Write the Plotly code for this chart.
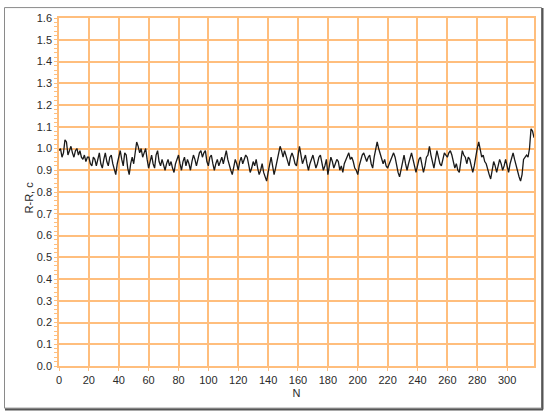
import plotly.graph_objects as go

rr = [
    0.99, 1.00, 0.96, 0.98, 1.04, 1.03, 0.97, 0.99, 1.01, 0.98,
    0.96, 0.99, 1.00, 0.97, 0.99, 0.96, 0.95, 0.97, 0.94, 0.96,
    0.96, 0.93, 0.92, 0.96, 0.95, 0.92, 0.96, 0.98, 0.93, 0.91,
    0.95, 0.98, 0.94, 0.92, 0.96, 0.97, 0.93, 0.91, 0.88, 0.93,
    0.97, 0.99, 0.95, 0.92, 0.98, 0.97, 0.91, 0.88, 0.93, 0.96,
    0.93, 0.97, 1.03, 1.01, 0.98, 1.00, 0.96, 0.98, 1.00, 0.95,
    0.91, 0.94, 0.97, 0.93, 0.91, 0.97, 0.99, 0.94, 0.92, 0.95,
    0.93, 0.90, 0.93, 0.95, 0.92, 0.94, 0.91, 0.89, 0.93, 0.95,
    0.97, 0.93, 0.90, 0.94, 0.96, 0.92, 0.95, 0.93, 0.90, 0.94,
    0.97, 0.95, 0.92, 0.95, 0.98, 0.99, 0.96, 0.98, 0.99, 0.94,
    0.92, 0.96, 0.97, 0.93, 0.90, 0.93, 0.95, 0.92, 0.94, 0.96,
    0.93, 0.97, 0.99, 0.95, 0.92, 0.90, 0.88, 0.92, 0.95, 0.93,
    0.90, 0.94, 0.96, 0.93, 0.95, 0.97, 0.96, 0.92, 0.89, 0.91,
    0.94, 0.92, 0.95, 0.91, 0.88, 0.90, 0.93, 0.89, 0.87, 0.85,
    0.89, 0.93, 0.96, 0.92, 0.88, 0.91, 0.95, 0.97, 1.01, 0.99,
    0.96, 0.99, 0.97, 0.94, 0.92, 0.96, 0.98, 0.96, 0.93, 0.92,
    0.98, 1.01, 0.97, 0.93, 0.95, 0.97, 0.93, 0.90, 0.93, 0.95,
    0.97, 0.94, 0.91, 0.93, 0.96, 0.97, 0.93, 0.90, 0.92, 0.95,
    0.88, 0.92, 0.96, 0.94, 0.91, 0.93, 0.95, 0.94, 0.90, 0.92,
    0.89, 0.93, 0.95, 0.97, 0.98, 0.95, 0.96, 0.94, 0.91, 0.90,
    0.88, 0.92, 0.95, 0.97, 0.98, 0.96, 0.94, 0.96, 0.97, 0.93,
    0.91, 0.96, 1.00, 1.03, 1.00, 0.98, 0.95, 0.93, 0.95, 0.92,
    0.91, 0.93, 0.95, 0.97, 0.98, 0.96, 0.92, 0.89, 0.87, 0.90,
    0.94, 0.97, 0.93, 0.90, 0.93, 0.96, 0.98, 0.95, 0.91, 0.89,
    0.92, 0.95, 0.96, 0.93, 0.89, 0.92, 0.96, 0.97, 1.01, 0.97,
    0.93, 0.91, 0.95, 0.99, 0.96, 0.93, 0.92, 0.95, 0.98, 0.97,
    0.96, 0.98, 0.99, 0.97, 0.94, 0.91, 0.93, 0.90, 0.89, 0.94,
    0.99, 0.97, 0.96, 0.93, 0.96, 0.95, 0.92, 0.89, 0.92, 0.97,
    1.00, 1.03, 0.99, 0.96, 0.97, 0.94, 0.93, 0.90, 0.88, 0.86,
    0.90, 0.94, 0.92, 0.89, 0.92, 0.95, 0.93, 0.90, 0.92, 0.95,
    0.92, 0.89, 0.93, 0.96, 0.98, 0.95, 0.92, 0.90, 0.87, 0.85,
    0.88, 0.95, 0.96, 0.97, 0.96, 1.00, 1.09, 1.08, 1.05,
]
n = list(range(len(rr)))

x_ticks = list(range(0, 301, 20))
y_ticks = [round(i * 0.1, 1) for i in range(17)]
y_labels = [f"{v:.1f}" for v in y_ticks]

orange = "#FFBE7D"
font = dict(family="Liberation Sans, Arial, sans-serif", size=11, color="#2a2a2a")

PW, PH, L, T = 475, 351, 59, 15


def px(x):
    return (x - L) / PW


def py(y):
    return (T + PH - y) / PH


fig = go.Figure()
fig.add_trace(go.Scatter(x=n, y=rr, mode="lines",
                         line=dict(color="#1a1a1a", width=1.3),
                         showlegend=False, hoverinfo="skip"))

fig.update_layout(
    width=550, height=416,
    margin=dict(l=L, r=550 - L - PW, t=T, b=416 - T - PH),
    paper_bgcolor="white", plot_bgcolor="white",
    font=font,
    xaxis=dict(range=[0, 318], tickvals=x_ticks, ticktext=[str(v) for v in x_ticks],
               showgrid=True, gridcolor=orange, gridwidth=1.5,
               showline=True, linecolor=orange, linewidth=1.5, mirror=True,
               ticks="outside", ticklen=3, tickcolor=orange,
               zeroline=False,
               title=dict(text="N", font=font, standoff=4)),
    yaxis=dict(range=[0, 1.6], tickvals=y_ticks, ticktext=y_labels,
               showgrid=True, gridcolor=orange, gridwidth=1.5,
               showline=True, linecolor=orange, linewidth=1.5, mirror=True,
               ticks="outside", ticklen=3, tickcolor=orange,
               minor=dict(dtick=0.02, ticks="outside", ticklen=3, tickcolor=orange, showgrid=False),
               zeroline=False),
    annotations=[
        dict(text="R-R, c", xref="paper", yref="paper", x=px(29), y=py(196),
             textangle=-90, showarrow=False, font=font,
             xanchor="center", yanchor="middle"),
    ],
    shapes=[
        dict(type="rect", xref="paper", yref="paper",
             x0=px(4.5), x1=px(541.5), y0=py(408.5), y1=py(4.5),
             line=dict(color="#8a8a8a", width=1), layer="above"),
        dict(type="line", xref="paper", yref="paper",
             x0=px(5), x1=px(543), y0=py(410), y1=py(410),
             line=dict(color="#555555", width=2), layer="above"),
        dict(type="line", xref="paper", yref="paper",
             x0=px(542.5), x1=px(542.5), y0=py(410), y1=py(5),
             line=dict(color="#555555", width=2), layer="above"),
    ],
)

fig.write_html("out.html", config={"displayModeBar": False},
               post_script="document.body.style.margin='0';")
